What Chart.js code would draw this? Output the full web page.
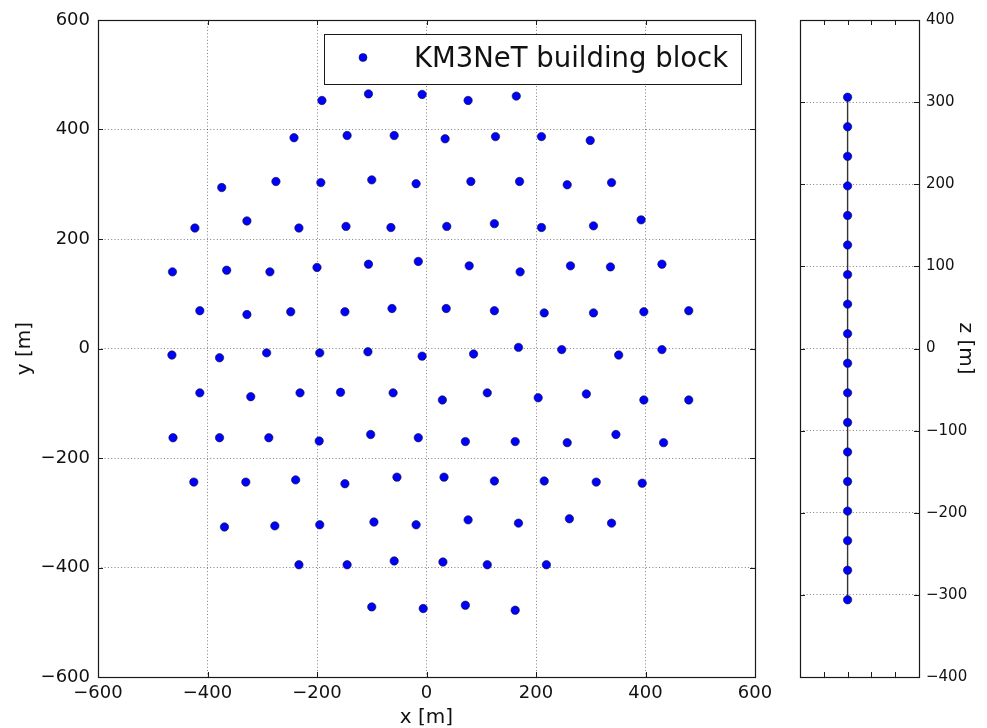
<!DOCTYPE html>
<html>
<head>
<meta charset="utf-8">
<title>KM3NeT building block layout</title>
<script src="https://cdn.jsdelivr.net/npm/chart.js@4/dist/chart.umd.min.js"></script>
<style>
  html, body { margin: 0; padding: 0; background: #fff; }
  #wrap { position: relative; width: 987px; height: 728px; }
  #plan { position: absolute; left: 0; top: 0; }
  #side { position: absolute; left: 780px; top: 0; }
</style>
</head>
<body>
<div id="wrap">
  <canvas id="plan" width="780" height="728"></canvas>
  <canvas id="side" width="207" height="728"></canvas>
</div>
<script>
// Horizontal footprint of the detection strings (metres)
const stringX = [
  -191, -106, -8, 76, 164,
  -242, -145, -59, 34, 126, 210, 299,
  -374, -275, -193, -100, -19, 81, 170, 257, 338,
  -423, -328, -233, -147, -65, 37, 124, 210, 305, 392,
  -464, -365, -286, -200, -106, -15, 78, 171, 263, 336, 430,
  -414, -328, -248, -149, -63, 36, 124, 215, 305, 397, 479,
  -465, -378, -292, -195, -107, -8, 86, 168, 247, 351, 430,
  -414, -321, -231, -157, -61, 29, 111, 204, 292, 397, 479,
  -463, -378, -288, -196, -102, -15, 71, 162, 257, 346, 433,
  -425, -330, -239, -149, -54, 32, 124, 215, 310, 394,
  -369, -277, -195, -96, -19, 76, 168, 261, 338,
  -233, -145, -59, 30, 111, 219,
  -100, -6, 71, 162
];
const stringY = [
  453, 465, 464, 453, 461,
  385, 389, 389, 383, 387, 387, 380,
  294, 305, 303, 308, 301, 305, 305, 299, 303,
  220, 233, 220, 223, 221, 223, 228, 221, 224, 235,
  140, 143, 140, 148, 154, 159, 151, 140, 151, 149, 154,
  69, 62, 67, 67, 73, 73, 69, 65, 65, 67, 69,
  -12, -17, -8, -8, -6, -14, -10, 2, -2, -12, -2,
  -81, -88, -81, -80, -81, -94, -81, -90, -83, -94, -94,
  -163, -163, -163, -169, -157, -163, -170, -170, -172, -157, -172,
  -244, -244, -240, -247, -235, -235, -242, -242, -244, -246,
  -326, -324, -322, -317, -322, -313, -319, -311, -319,
  -395, -395, -388, -390, -395, -395,
  -472, -475, -469, -478
];
// Vertical positions of the optical modules along one string (metres)
const domZ = [306, 270, 234, 198, 162, 126, 90, 54, 18, -18, -54, -90, -126, -162, -198, -234, -270, -306];
const domX = domZ.map(() => 0);

// Axis ranges and tick spacing
const planTicks = [-600, -400, -200, 0, 200, 400, 600];
const sideTicks = [-400, -300, -200, -100, 0, 100, 200, 300, 400];
const sideXTicks = [-2, -1, 0, 1, 2, 3];

const legendLabel = 'KM3NeT building block';

const FONT = '"DejaVu Sans", "Liberation Sans", sans-serif';
Chart.defaults.font.family = FONT;
Chart.defaults.color = '#111';

const minus = v => String(v).replace('-', '\u2212');
const GRID = 'rgba(0,0,0,0.5)';
const GRID_DASH = [1, 2.3];
const DOT_FILL = '#0000ff';
const DOT_EDGE = 'rgba(20,20,40,0.75)';

// Solid frame around the plot area plus inward tick marks on every side
const frameTicks = {
  id: 'frameTicks',
  afterDraw(chart, args, opts) {
    const { ctx, chartArea: a } = chart;
    const len = opts.length || 5;
    ctx.save();
    ctx.strokeStyle = '#1a1a1a';
    ctx.lineWidth = 1;
    ctx.beginPath();
    const xs = chart.scales.x, ys = chart.scales.y;
    xs.ticks.forEach((t, i) => {
      const p = Math.round(xs.getPixelForTick(i)) + 0.5;
      ctx.moveTo(p, a.bottom); ctx.lineTo(p, a.bottom - len);
      ctx.moveTo(p, a.top); ctx.lineTo(p, a.top + len);
    });
    ys.ticks.forEach((t, i) => {
      const p = Math.round(ys.getPixelForTick(i)) + 0.5;
      ctx.moveTo(a.left, p); ctx.lineTo(a.left + len, p);
      ctx.moveTo(a.right, p); ctx.lineTo(a.right - len, p);
    });
    ctx.stroke();
    ctx.lineWidth = 1.2;
    ctx.strokeRect(Math.round(a.left) + 0.5, Math.round(a.top) + 0.5,
                   Math.round(a.right - a.left), Math.round(a.bottom - a.top));
    ctx.restore();
  }
};

// Boxed legend in the upper right of the plan view
const legendBox = {
  id: 'legendBox',
  afterDraw(chart, args, o) {
    const { ctx, chartArea: a } = chart;
    const ds = chart.data.datasets[0];
    ctx.save();
    ctx.font = o.size + 'px ' + FONT;
    const tw = ctx.measureText(ds.label).width;
    const w = Math.round(90 + tw + 13), h = 50;
    const x1 = Math.round(a.right - 14 - w), y1 = Math.round(a.top + 14);
    ctx.fillStyle = '#fff';
    ctx.fillRect(x1, y1, w, h);
    ctx.strokeStyle = '#1a1a1a';
    ctx.lineWidth = 1;
    ctx.strokeRect(x1 + 0.5, y1 + 0.5, w, h);
    ctx.beginPath();
    ctx.arc(x1 + 39, y1 + 23.5, 4, 0, Math.PI * 2);
    ctx.fillStyle = ds.pointBackgroundColor;
    ctx.fill();
    ctx.lineWidth = ds.pointBorderWidth;
    ctx.strokeStyle = ds.pointBorderColor;
    ctx.stroke();
    ctx.fillStyle = '#111';
    ctx.textBaseline = 'alphabetic';
    ctx.textAlign = 'left';
    ctx.fillText(ds.label, x1 + 90, y1 + 32.5);
    ctx.restore();
  }
};

const fixedTicks = vals => scale => {
  scale.ticks = vals.map(v => ({ value: v }));
};

new Chart(document.getElementById('plan'), {
  type: 'scatter',
  data: {
    datasets: [{
      label: legendLabel,
      data: stringX.map((x, i) => ({ x, y: stringY[i] })),
      pointRadius: 4.2,
      pointBackgroundColor: DOT_FILL,
      pointBorderColor: DOT_EDGE,
      pointBorderWidth: 0.8
    }]
  },
  options: {
    responsive: false,
    animation: false,
    devicePixelRatio: 1,
    layout: { padding: { top: 20, right: 25, left: 0, bottom: 0 } },
    plugins: {
      legend: { display: false },
      tooltip: { enabled: false },
      legendBox: { size: 27.5 },
      frameTicks: { length: 5 }
    },
    scales: {
      x: {
        type: 'linear', min: planTicks[0], max: planTicks[planTicks.length - 1],
        afterBuildTicks: fixedTicks(planTicks),
        ticks: { font: { size: 18 }, color: '#111', padding: 6, maxRotation: 0, autoSkip: false, callback: minus },
        grid: { color: GRID, lineWidth: 1, drawTicks: false },
        border: { display: false, dash: GRID_DASH },
        title: { display: true, text: 'x [m]', font: { size: 20, lineHeight: 1 }, color: '#111', padding: { top: 0, bottom: 0 } },
        afterFit(s) { s.height = 51; }
      },
      y: {
        type: 'linear', min: planTicks[0], max: planTicks[planTicks.length - 1],
        afterBuildTicks: fixedTicks(planTicks),
        ticks: { font: { size: 18 }, color: '#111', padding: 8, autoSkip: false, callback: minus },
        grid: { color: GRID, lineWidth: 1, drawTicks: false },
        border: { display: false, dash: GRID_DASH },
        title: { display: true, text: 'y [m]', font: { size: 20, lineHeight: 1 }, color: '#111', padding: { top: 15, bottom: 0 } },
        afterFit(s) { s.width = 98; }
      }
    }
  },
  plugins: [frameTicks, legendBox]
});

new Chart(document.getElementById('side'), {
  type: 'scatter',
  data: {
    datasets: [{
      label: 'string',
      data: domX.map((x, i) => ({ x, y: domZ[i] })),
      showLine: true,
      borderColor: '#333',
      borderWidth: 1.4,
      pointRadius: 4.2,
      pointBackgroundColor: DOT_FILL,
      pointBorderColor: DOT_EDGE,
      pointBorderWidth: 0.8
    }]
  },
  options: {
    responsive: false,
    animation: false,
    devicePixelRatio: 1,
    layout: { padding: { top: 20, right: 0, left: 20, bottom: 0 } },
    plugins: {
      legend: { display: false },
      tooltip: { enabled: false },
      frameTicks: { length: 5 }
    },
    scales: {
      x: {
        type: 'linear', min: sideXTicks[0], max: sideXTicks[sideXTicks.length - 1],
        afterBuildTicks: fixedTicks(sideXTicks),
        ticks: { display: false },
        grid: { display: false, drawTicks: false },
        border: { display: false },
        afterFit(s) { s.height = 51; }
      },
      y: {
        type: 'linear', position: 'right',
        min: sideTicks[0], max: sideTicks[sideTicks.length - 1],
        afterBuildTicks: fixedTicks(sideTicks),
        ticks: { font: { size: 15 }, color: '#111', padding: 7, autoSkip: false, callback: minus },
        grid: { color: GRID, lineWidth: 1, drawTicks: false },
        border: { display: false, dash: GRID_DASH },
        title: { display: true, text: 'z [m]', font: { size: 20, lineHeight: 1 }, color: '#111', padding: { top: 12, bottom: 0 } },
        afterFit(s) { s.width = 68; }
      }
    }
  },
  plugins: [frameTicks]
});
</script>
</body>
</html>
